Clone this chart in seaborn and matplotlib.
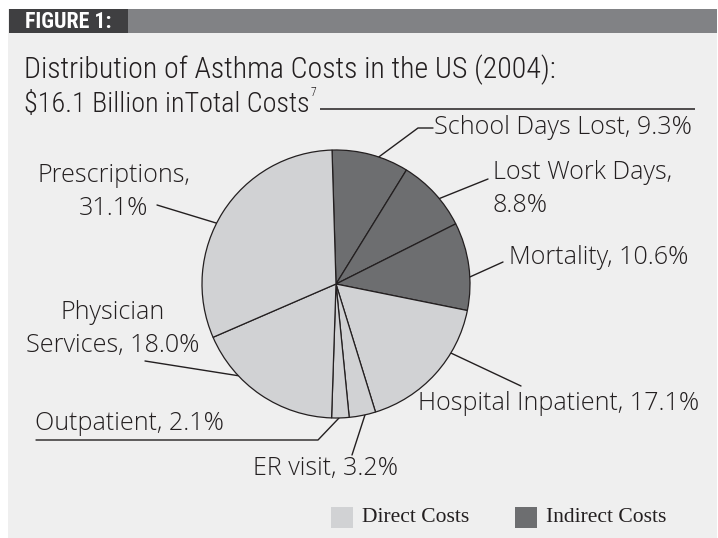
import matplotlib
matplotlib.use("Agg")
import matplotlib.pyplot as plt
import seaborn as sns
import numpy as np
from matplotlib.patches import Rectangle
from matplotlib import font_manager as fm

# ---------------- data ----------------
categories = ["School Days Lost", "Lost Work Days", "Mortality", "Hospital Inpatient",
              "ER visit", "Outpatient", "Physician Services", "Prescriptions"]
shares = [9.3, 8.8, 10.6, 17.1, 3.2, 2.1, 18.0, 31.1]
cost_type = ["Indirect", "Indirect", "Indirect", "Direct", "Direct", "Direct", "Direct", "Direct"]
legend_labels = ["Direct Costs", "Indirect Costs"]
figure_tag = "FIGURE 1:"
title_line1 = "Distribution of Asthma Costs in the US (2004):"
title_line2 = r"\$16.1 Billion inTotal Costs"
footnote_mark = "7"

# ---------------- fonts ----------------
sns.set_style("white")
ttf = fm.fontManager.ttflist


def wnum(w):
    if isinstance(w, str):
        return fm.weight_dict.get(w, 400)
    return int(w)


def pick_light(cands):
    for c in cands:
        for f in ttf:
            if f.name == c and wnum(f.weight) <= 300 and f.style == "normal" and f.stretch == "normal":
                return c, wnum(f.weight)
    return cands[0], 400


def pick_condensed():
    pref = ["Roboto Condensed", "Liberation Sans Narrow", "Open Sans Condensed",
            "Noto Sans Condensed", "DejaVu Sans Condensed", "Arial Narrow"]
    for p in pref:
        for f in ttf:
            if f.name == p and f.style == "normal":
                return p, "normal"
    for fam in ["Roboto", "Noto Sans", "Open Sans", "DejaVu Sans", "Liberation Sans"]:
        for f in ttf:
            if f.name == fam and f.stretch in ("condensed", "semi-condensed", "extra-condensed"):
                return fam, f.stretch
    return "Liberation Sans", "normal"


def light_weight_of(fam):
    ws = sorted({wnum(f.weight) for f in ttf if f.name == fam and f.style == "normal"})
    for w in ws:
        if 250 <= w <= 350:
            return w
    return 400


LABEL_FAM, LABEL_W = pick_light(["Open Sans", "Lato", "Roboto", "Inter", "Noto Sans"])
COND_FAM, COND_STRETCH = pick_condensed()
COND_LIGHT = light_weight_of(COND_FAM)
plt.rcParams["font.family"] = [LABEL_FAM, "DejaVu Sans"]
LEGEND_FONT = ["Liberation Serif", "DejaVu Serif"]

W, H = 718, 538
DPI = 100
TXT = "#231f20"
palette = {"Direct": "#d1d2d4", "Indirect": "#6d6e70"}

fig = plt.figure(figsize=(W / DPI, H / DPI), dpi=DPI, facecolor="white")
renderer = fig.canvas.get_renderer()

bg = fig.add_axes([0, 0, 1, 1])
bg.set_xlim(0, W)
bg.set_ylim(H, 0)
bg.axis("off")
bg.add_patch(Rectangle((8, 9), 709, 529, facecolor="#efefef", edgecolor="none", zorder=0))
bg.add_patch(Rectangle((9, 9), 708, 24, facecolor="#818285", edgecolor="none", zorder=1))
bg.add_patch(Rectangle((9, 9), 119, 24, facecolor="#3f3f41", edgecolor="none", zorder=2))


def fit(txt, target_w):
    ext = txt.get_window_extent(renderer)
    txt.set_fontsize(txt.get_fontsize() * target_w / ext.width)


tag = bg.text(25, 22, figure_tag, color="white", fontsize=14, fontweight="bold",
              family=[COND_FAM, "DejaVu Sans"], fontstretch=COND_STRETCH,
              ha="left", va="center", zorder=3)
fit(tag, 87)

TFAM = [COND_FAM, "DejaVu Sans"]
t1 = bg.text(24, 78, title_line1, color=TXT, fontsize=22, family=TFAM, fontweight=COND_LIGHT,
             fontstretch=COND_STRETCH, ha="left", va="baseline")
fit(t1, 532)
t2 = bg.text(24, 112, title_line2, color=TXT, fontsize=22, family=TFAM, fontweight=COND_LIGHT,
             fontstretch=COND_STRETCH, ha="left", va="baseline")
fit(t2, 284)
e2 = t2.get_window_extent(renderer)
sup = bg.text(e2.x1 + 1, 96, footnote_mark, color=TXT, fontsize=t1.get_fontsize() * 0.4,
              family=TFAM, fontweight=COND_LIGHT, fontstretch=COND_STRETCH,
              ha="left", va="baseline")
es = sup.get_window_extent(renderer)
bg.plot([es.x1 + 4, 695], [109, 109], color=TXT, lw=1.1, solid_capstyle="butt")

# ---------------- pie ----------------
cx, cy, r = 336, 284, 134
pie_ax = fig.add_axes([(cx - r) / W, 1 - (cy + r) / H, 2 * r / W, 2 * r / H])
pie_ax.set_facecolor("none")
colors = [palette[t] for t in cost_type]
wedges, _ = pie_ax.pie(shares, colors=colors, startangle=91.7, counterclock=False,
                       wedgeprops=dict(edgecolor="#231f20", linewidth=0.9))
pie_ax.set_xlim(-1, 1)
pie_ax.set_ylim(-1, 1)
pie_ax.set_aspect("equal")
pie_ax.axis("off")


def edge_px(angle_deg):
    a = np.deg2rad(angle_deg)
    x, y = pie_ax.transData.transform((np.cos(a), np.sin(a)))
    return x, H - y


layout = {
    "School Days Lost": dict(pos=(434, 127), ha="left", ma="left", fmt="{c}, {v}%", ang=71.4,
                             path=[(418, 128), (433, 128)]),
    "Lost Work Days": dict(pos=(493, 189), ha="left", ma="left", fmt="{c},\n{v}%", ang=39.6,
                           path=[(488, 179)]),
    "Mortality": dict(pos=(509, 257), ha="left", ma="left", fmt="{c}, {v}%", ang=3.0,
                      path=[(503, 262)]),
    "Hospital Inpatient": dict(pos=(418, 403), ha="left", ma="left", fmt="{c}, {v}%", ang=-31.0,
                               path=[(521, 386)]),
    "ER visit": dict(pos=(253, 469), ha="left", ma="left", fmt="{c}, {v}%", ang=-77.5,
                     path=[(352, 455)]),
    "Outpatient": dict(pos=(35, 423), ha="left", ma="left", fmt="{c}, {v}%", ang=-88.7,
                       path=[(318, 440), (36, 440)]),
    "Physician Services": dict(pos=(113, 329), ha="center", ma="center",
                               fmt="Physician\nServices, {v}%", ang=-136.8, path=[(145, 361)]),
    "Prescriptions": dict(pos=(114, 192), ha="center", ma="center", fmt="{c},\n{v}%", ang=153.0,
                          path=[(157, 205)]),
}

probe = bg.text(0, 0, "Hospital Inpatient, 17.1%", fontsize=16, fontweight=LABEL_W)
fit(probe, 282)
LABEL_SIZE = probe.get_fontsize()
probe.remove()

for c, v in zip(categories, shares):
    L = layout[c]
    bg.text(L["pos"][0], L["pos"][1], L["fmt"].format(c=c, v=f"{v:.1f}"),
            color=TXT, fontsize=LABEL_SIZE, fontweight=LABEL_W, ha=L["ha"], va="center",
            multialignment=L["ma"], linespacing=1.45, zorder=5)
    pts = [edge_px(L["ang"])] + L["path"]
    xs, ys = zip(*pts)
    bg.plot(xs, ys, color=TXT, lw=1.0, zorder=4)

# ---------------- legend ----------------
for lab, t, x0 in zip(legend_labels, ["Direct", "Indirect"], [331, 515]):
    bg.add_patch(Rectangle((x0, 507), 22, 21, facecolor=palette[t], edgecolor="none", zorder=3))
    bg.text(x0 + 31, 518, lab, color=TXT, fontsize=15.5, family=LEGEND_FONT,
            ha="left", va="center", zorder=3)

fig.savefig("out.png", dpi=DPI, facecolor="white")
